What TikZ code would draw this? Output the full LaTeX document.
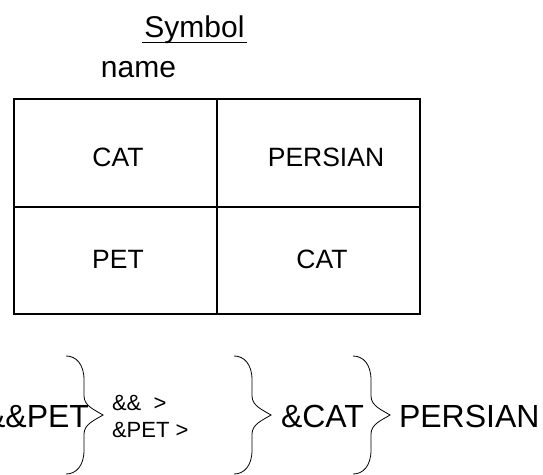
\documentclass[tikz,border=0pt]{standalone}
\usepackage{fontspec}
\setmainfont{Liberation Sans}
\begin{document}
\begin{tikzpicture}[x=1pt, y=-1pt,
  txt/.style={inner sep=0pt, outer sep=0pt},
  grid/.style={line width=1.2pt, black},
  bracestroke/.style={line width=0.8pt, black}]
\useasboundingbox (0,0) rectangle (543,474);
\clip (0,0) rectangle (543,474);

% heading
\node[txt, anchor=base, font=\fontsize{30}{36}\selectfont] (sym) at (194.5,37) {Symbol};
\draw[line width=1.3pt] (142,42.5) -- (247,42.5);
\node[txt, anchor=base, font=\fontsize{30}{36}\selectfont] (nm) at (138.5,77) {name};

% two-by-two table
\draw[grid] (14,99) rectangle (420,314);
\draw[grid] (217,99) -- (217,314);
\draw[grid] (14,207) -- (420,207);
\begin{scope}[every node/.style={txt, font=\fontsize{26.5}{32}\selectfont}]
  \node (c11) at (118,157.5) {CAT};
  \node (c12) at (326,157.5) {PERSIAN};
  \node (c21) at (118,259.5) {PET};
  \node (c22) at (322,259.5) {CAT};
\end{scope}

% bottom line of text
\node[txt, anchor=base east, font=\fontsize{32}{38}\selectfont] (t1) at (89,427) {\&\&PET};
\node[txt, anchor=base west, font=\fontsize{22}{26}\selectfont] (t2a) at (112,410) {\&\&\ \ >};
\node[txt, anchor=base west, font=\fontsize{22}{26}\selectfont] (t2b) at (112,437.5) {\&PET >};
\node[txt, anchor=base west, font=\fontsize{32}{38}\selectfont] (t3) at (281,427) {\&CAT};
\node[txt, anchor=base west, font=\fontsize{32}{38}\selectfont] (t4) at (399,427) {PERSIAN};

% curly braces: #1 = x of the straight stems
\newcommand{\curlybrace}[1]{%
  \draw[bracestroke] (#1-18,356) .. controls (#1-8,356) and (#1,364) .. (#1,380)
    -- (#1,396) .. controls (#1,406) and (#1+11,410) .. (#1+19,415)
    .. controls (#1+11,420) and (#1,424) .. (#1,434)
    -- (#1,450) .. controls (#1,466) and (#1-8,474) .. (#1-18,474);}
\curlybrace{84}
\curlybrace{252}
\curlybrace{371}
\end{tikzpicture}
\end{document}
